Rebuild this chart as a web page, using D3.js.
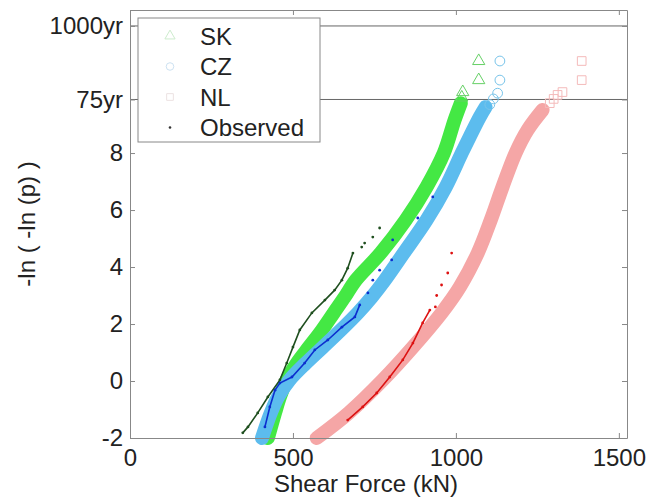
<!DOCTYPE html>
<html>
<head>
<meta charset="utf-8">
<script src="https://cdn.jsdelivr.net/npm/d3@7"></script>
<style>
    body { margin: 0; background: #fff; }
    svg text { font-family: "Liberation Sans", Arial, sans-serif; fill: #222; }
</style>
</head>
<body>
<div id="chart"></div>
<script>
// simulated maxima, shear force (kN) against reduced variate -ln(-ln(p))
const skForce   = [423, 445, 460, 481, 512, 549, 589, 625, 659, 693, 769, 846, 910, 963, 996, 1015];
const skVariate = [-2.0, -1.12, -0.56, 0.04, 0.63, 1.19, 1.79, 2.39, 2.95, 3.54, 4.49, 5.65, 6.81, 8.0, 9.16, 9.75];
const skTailForce   = [1018, 1021, 1070, 1070];
const skTailVariate = [9.95, 10.14, 10.56, 11.23];

const czForce   = [405, 432, 454, 490, 540, 592, 647, 699, 742, 782, 840, 910, 969, 1018, 1042, 1073, 1091];
const czVariate = [-2.0, -1.12, -0.56, 0.04, 0.63, 1.19, 1.79, 2.39, 2.95, 3.54, 4.49, 5.65, 6.81, 8.0, 8.56, 9.26, 9.61];
const czTailForce   = [1104, 1115, 1128, 1135, 1135];
const czTailVariate = [9.7, 9.9, 10.1, 10.56, 11.23];

const nlForce   = [573, 671, 776, 868, 956, 1012, 1067, 1107, 1143, 1183, 1220, 1266];
const nlVariate = [-2.0, -1.12, 0.04, 1.19, 2.39, 3.30, 4.49, 5.65, 6.81, 8.0, 8.81, 9.51];
const nlTailForce   = [1288, 1300, 1312, 1327, 1386, 1386];
const nlTailVariate = [9.75, 9.9, 10.04, 10.14, 10.56, 11.23];

// observed maxima
const obsSkForce   = [346, 362, 392, 423, 460, 481, 500, 521, 558, 598, 628, 650, 668, 684];
const obsSkVariate = [-1.82, -1.61, -1.12, -0.56, 0.04, 0.63, 1.19, 1.79, 2.39, 2.84, 3.19, 3.54, 3.96, 4.49];
const obsSkTailForce   = [711, 720, 745, 766];
const obsSkTailVariate = [4.70, 4.84, 5.05, 5.37];

const obsCzForce   = [414, 429, 445, 460, 497, 536, 567, 607, 650, 690, 705];
const obsCzVariate = [-1.61, -0.91, -0.32, -0.07, 0.14, 0.63, 1.09, 1.44, 1.89, 2.25, 2.67];
const obsCzTailForce   = [730, 745, 766, 803, 806, 883, 929];
const obsCzTailVariate = [3.09, 3.54, 3.89, 4.25, 4.95, 5.72, 6.46];

const obsNlForce   = [668, 714, 757, 797, 837, 868, 898, 920];
const obsNlVariate = [-1.37, -0.91, -0.42, 0.14, 0.74, 1.33, 2.04, 2.49];
const obsNlTailForce   = [937, 941, 956, 975, 987];
const obsNlTailVariate = [2.6, 3.0, 3.37, 3.79, 4.49];

// axis ticks
const xTicks = [0, 500, 1000, 1500];
const yTicks = [-2, 0, 2, 4, 6, 8, 9.88, 12.46];
const yTickLabels = ["-2", "0", "2", "4", "6", "8", "75yr", "1000yr"];
const returnLevels = [9.88, 12.46];

const legendNames = ["SK", "CZ", "NL", "Observed"];

const zip = (xs, ys) => xs.map((x, i) => ({x: x, y: ys[i]}));

class GumbelPlot {
    constructor(selector) {
        this.selector = selector
        this.width = 648
        this.height = 504
        this.margin = {top: 10, right: 21, bottom: 66, left: 130}
    }

    draw() {
        this.createSVG();

        this.x = d3.scaleLinear()
            .domain([0, 1525])
            .range([this.margin.left, this.width - this.margin.right]);
        this.y = d3.scaleLinear()
            .domain([-2, 13.02])
            .range([this.height - this.margin.bottom, this.margin.top]);

        this.drawReturnLines();

        this.drawBand(zip(skForce, skVariate), "#44e844");
        this.drawBand(zip(czForce, czVariate), "#5cbcee");
        this.drawBand(zip(nlForce, nlVariate), "#f5a6a6");

        this.drawTail(zip(skTailForce, skTailVariate), d3.symbolTriangle, 65, "#66d066");
        this.drawTail(zip(czTailForce, czTailVariate), d3.symbolCircle, 75, "#78c4ea");
        this.drawTail(zip(nlTailForce, nlTailVariate), d3.symbolSquare, 75, "#f4baba");

        this.drawObserved(zip(obsSkForce, obsSkVariate), zip(obsSkTailForce, obsSkTailVariate), "#1f4f1f");
        this.drawObserved(zip(obsCzForce, obsCzVariate), zip(obsCzTailForce, obsCzTailVariate), "#0c2ecf");
        this.drawObserved(zip(obsNlForce, obsNlVariate), zip(obsNlTailForce, obsNlTailVariate), "#dd1111");

        this.drawAxes();
        this.drawLegend();
    }

    createSVG() {
        this.svg = d3.select(this.selector)
            .append("svg")
            .attr("width", this.width)
            .attr("height", this.height);
    }

    drawReturnLines() {
        this.svg.append("g")
            .selectAll("line")
            .data(returnLevels)
            .enter()
            .append("line")
            .attr("x1", this.x(0))
            .attr("x2", this.x(1525))
            .attr("y1", d => this.y(d))
            .attr("y2", d => this.y(d))
            .attr("stroke", "#666")
            .attr("stroke-width", 1);
    }

    // dense simulated points show up as one thick band
    drawBand(data, color) {
        let line = d3.line()
            .x(d => this.x(d.x))
            .y(d => this.y(d.y))
            .curve(d3.curveCatmullRom.alpha(0.5));

        this.svg.append("path")
            .datum(data)
            .attr("d", line)
            .attr("fill", "none")
            .attr("stroke", color)
            .attr("stroke-width", 14)
            .attr("stroke-linecap", "round")
            .attr("stroke-linejoin", "round");
    }

    drawTail(data, shape, size, color) {
        this.svg.append("g")
            .selectAll("path")
            .data(data)
            .enter()
            .append("path")
            .attr("transform", d => `translate(${this.x(d.x)},${this.y(d.y)})`)
            .attr("d", d3.symbol().type(shape).size(size))
            .attr("fill", "none")
            .attr("stroke", color)
            .attr("stroke-width", 1);
    }

    drawObserved(dense, sparse, color) {
        let line = d3.line()
            .x(d => this.x(d.x))
            .y(d => this.y(d.y));

        this.svg.append("path")
            .datum(dense)
            .attr("d", line)
            .attr("fill", "none")
            .attr("stroke", color)
            .attr("stroke-width", 1.6);

        this.svg.append("g")
            .selectAll("circle")
            .data(dense.concat(sparse))
            .enter()
            .append("circle")
            .attr("cx", d => this.x(d.x))
            .attr("cy", d => this.y(d.y))
            .attr("r", 1.4)
            .attr("fill", color);
    }

    drawAxes() {
        let bottom = this.height - this.margin.bottom;
        let right = this.width - this.margin.right;

        let xAxis = d3.axisBottom(this.x).tickValues(xTicks)
            .tickFormat(d3.format("d"))
            .tickSizeInner(-5).tickSizeOuter(0).tickPadding(11);
        let yAxis = d3.axisLeft(this.y).tickValues(yTicks)
            .tickFormat((d, i) => yTickLabels[i])
            .tickSizeInner(-5).tickSizeOuter(0).tickPadding(7);
        let xTop = d3.axisTop(this.x).tickValues(xTicks)
            .tickFormat("").tickSizeInner(-5).tickSizeOuter(0);
        let yRight = d3.axisRight(this.y).tickValues(yTicks)
            .tickFormat("").tickSizeInner(-5).tickSizeOuter(0);

        let gx = this.svg.append("g").attr("transform", `translate(0,${bottom})`).call(xAxis);
        let gy = this.svg.append("g").attr("transform", `translate(${this.margin.left},0)`).call(yAxis);
        let gt = this.svg.append("g").attr("transform", `translate(0,${this.margin.top})`).call(xTop);
        let gr = this.svg.append("g").attr("transform", `translate(${right},0)`).call(yRight);

        [gx, gy, gt, gr].forEach(g => {
            g.select(".domain").attr("stroke", "#888");
            g.selectAll(".tick line").attr("stroke", "#888");
            g.selectAll(".tick text")
                .attr("font-size", 24)
                .attr("font-family", "Liberation Sans, Arial, sans-serif")
                .attr("fill", "#222");
        });

        this.svg.append("text")
            .attr("x", 366)
            .attr("y", 492)
            .attr("text-anchor", "middle")
            .attr("font-size", 24)
            .text("Shear Force (kN)");

        this.svg.append("text")
            .attr("transform", "rotate(-90)")
            .attr("x", -224)
            .attr("y", 35)
            .attr("text-anchor", "middle")
            .attr("font-size", 24)
            .text("-ln ( -ln (p) )");
    }

    drawLegend() {
        let g = this.svg.append("g");

        g.append("rect")
            .attr("x", 138).attr("y", 18)
            .attr("width", 182).attr("height", 124)
            .attr("fill", "#fff")
            .attr("stroke", "#888");

        let rows = g.selectAll(".row")
            .data(legendNames)
            .enter()
            .append("g")
            .attr("transform", (d, i) => `translate(170,${36 + i * 30.5})`);

        let shapes = [d3.symbolTriangle, d3.symbolCircle, d3.symbolSquare];
        let colors = ["#cdeccd", "#cde2f2", "#ece2e2"];

        rows.filter((d, i) => i < 3)
            .append("path")
            .attr("d", (d, i) => d3.symbol().type(shapes[i]).size(45)())
            .attr("fill", "none")
            .attr("stroke", (d, i) => colors[i]);

        rows.filter((d, i) => i === 3)
            .append("circle")
            .attr("r", 1.3)
            .attr("fill", "#333");

        rows.append("text")
            .attr("x", 30)
            .attr("y", 8.5)
            .attr("font-size", 24)
            .text(d => d);
    }
}

new GumbelPlot("#chart").draw();
</script>
</body>
</html>
